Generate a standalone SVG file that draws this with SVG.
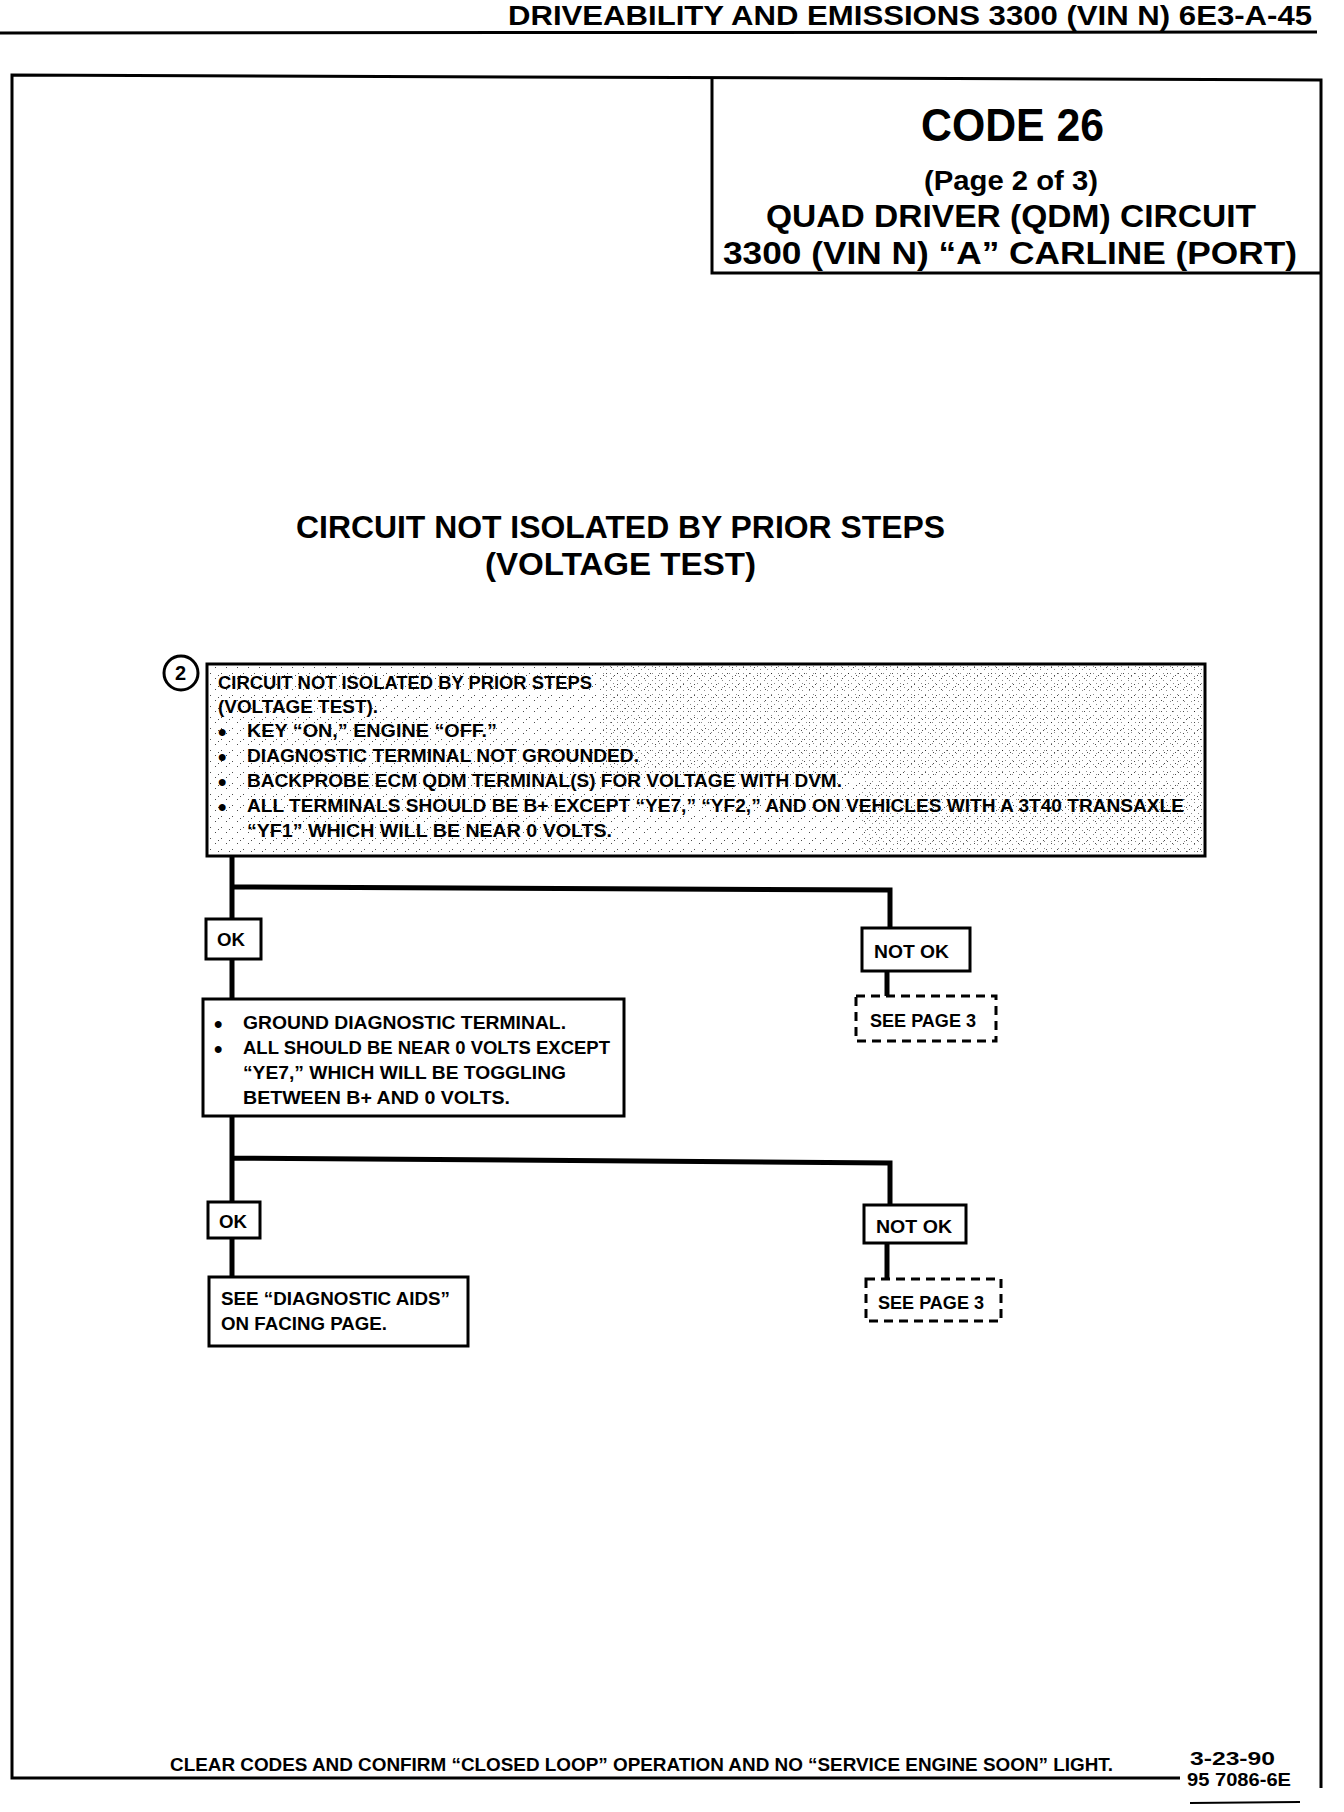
<svg xmlns="http://www.w3.org/2000/svg" width="1344" height="1812" viewBox="0 0 1344 1812">
<style>
text{font-family:"Liberation Sans","DejaVu Sans",sans-serif;font-weight:bold;fill:#000}
.box{fill:#fff;stroke:#000;stroke-width:3}
.dash{fill:#fff;stroke:#000;stroke-width:3;stroke-dasharray:9 6}
.conn{fill:none;stroke:#000;stroke-width:5;stroke-linejoin:miter}
.s{font-size:18px}
.m{font-size:19px}
.b{font-size:24px}
</style>
<defs>
<pattern id="stip" width="11" height="11" patternUnits="userSpaceOnUse">
<rect x="1" y="2" width="1" height="1" fill="#000"/>
<rect x="6" y="7" width="1" height="1" fill="#000"/>
<rect x="9" y="4" width="1" height="1" fill="#000"/>
</pattern>
<pattern id="stip2" width="7" height="7" patternUnits="userSpaceOnUse">
<rect x="1" y="1" width="1" height="1" fill="#000"/>
<rect x="4" y="4" width="1" height="1" fill="#000"/>
</pattern>
</defs>

<g id="header">
<text x="508" y="25" font-size="27" textLength="804" lengthAdjust="spacingAndGlyphs">DRIVEABILITY AND EMISSIONS 3300 (VIN N) 6E3-A-45</text>
<line x1="0" y1="33" x2="1317" y2="32" stroke="#000" stroke-width="3"/>
</g>

<g id="frame">
<polyline points="1180,1778 12,1778 12,75 1321,80 1321,1788" fill="none" stroke="#000" stroke-width="3"/>
</g>

<g id="title-box">
<polyline points="712,77 712,273 1321,273" fill="none" stroke="#000" stroke-width="3"/>
<text x="921" y="141" font-size="46" textLength="183" lengthAdjust="spacingAndGlyphs">CODE 26</text>
<text x="924" y="190" font-size="27" textLength="174" lengthAdjust="spacingAndGlyphs">(Page 2 of 3)</text>
<text x="766" y="227" font-size="31" textLength="490" lengthAdjust="spacingAndGlyphs">QUAD DRIVER (QDM) CIRCUIT</text>
<text x="723" y="264" font-size="31" textLength="574" lengthAdjust="spacingAndGlyphs">3300 (VIN N) “A” CARLINE (PORT)</text>
</g>

<g id="main-title">
<text x="296" y="538" font-size="31" textLength="649" lengthAdjust="spacingAndGlyphs">CIRCUIT NOT ISOLATED BY PRIOR STEPS</text>
<text x="485" y="575" font-size="31" textLength="271" lengthAdjust="spacingAndGlyphs">(VOLTAGE TEST)</text>
</g>

<g id="connectors">
<path class="conn" d="M232,856 V919 M232,959 V999 M232,887 L890,890 V928 M887,971 V996"/>
<path class="conn" d="M232,1116 V1202 M232,1238 V1277 M232,1158 L890,1163 V1205 M887,1243 V1279"/>
</g>

<g id="step2">
<circle cx="181" cy="673" r="17" fill="#fff" stroke="#000" stroke-width="3"/>
<text x="175" y="680" font-size="20">2</text>
</g>

<g id="box1">
<rect class="box" x="207" y="664" width="998" height="192"/>
<rect x="209" y="666" width="994" height="188" fill="url(#stip)" opacity="0.7"/>
<rect x="600" y="666" width="603" height="110" fill="url(#stip2)" opacity="0.45"/>
<rect x="860" y="780" width="343" height="74" fill="url(#stip2)" opacity="0.45"/>
<text class="m" x="218" y="689" textLength="374" lengthAdjust="spacingAndGlyphs">CIRCUIT NOT ISOLATED BY PRIOR STEPS</text>
<text class="m" x="218" y="713" textLength="160" lengthAdjust="spacingAndGlyphs">(VOLTAGE TEST).</text>
<text class="m" y="737"><tspan class="b" x="218" dy="3">•</tspan><tspan x="247" dy="-3" textLength="250" lengthAdjust="spacingAndGlyphs">KEY “ON,” ENGINE “OFF.”</tspan></text>
<text class="m" y="762"><tspan class="b" x="218" dy="3">•</tspan><tspan x="247" dy="-3" textLength="392" lengthAdjust="spacingAndGlyphs">DIAGNOSTIC TERMINAL NOT GROUNDED.</tspan></text>
<text class="m" y="787"><tspan class="b" x="218" dy="3">•</tspan><tspan x="247" dy="-3" textLength="595" lengthAdjust="spacingAndGlyphs">BACKPROBE ECM QDM TERMINAL(S) FOR VOLTAGE WITH DVM.</tspan></text>
<text class="m" y="812"><tspan class="b" x="218" dy="3">•</tspan><tspan x="247" dy="-3" textLength="937" lengthAdjust="spacingAndGlyphs">ALL TERMINALS SHOULD BE B+ EXCEPT “YE7,” “YF2,” AND ON VEHICLES WITH A 3T40 TRANSAXLE</tspan></text>
<text class="m" x="247" y="837" textLength="365" lengthAdjust="spacingAndGlyphs">“YF1” WHICH WILL BE NEAR 0 VOLTS.</text>
</g>

<g id="ok1">
<rect class="box" x="206" y="919" width="55" height="40"/>
<text class="m" x="217" y="946" textLength="28" lengthAdjust="spacingAndGlyphs">OK</text>
</g>

<g id="notok1">
<rect class="box" x="862" y="928" width="108" height="43"/>
<text class="m" x="874" y="958" textLength="75" lengthAdjust="spacingAndGlyphs">NOT OK</text>
</g>

<g id="seepage3-1">
<rect class="dash" x="856" y="996" width="140" height="45"/>
<text class="m" x="870" y="1027" textLength="106" lengthAdjust="spacingAndGlyphs">SEE PAGE 3</text>
</g>

<g id="box2">
<rect class="box" x="203" y="999" width="421" height="117"/>
<text class="m" y="1029"><tspan class="b" x="214" dy="3">•</tspan><tspan x="243" dy="-3" textLength="323" lengthAdjust="spacingAndGlyphs">GROUND DIAGNOSTIC TERMINAL.</tspan></text>
<text class="m" y="1054"><tspan class="b" x="214" dy="3">•</tspan><tspan x="243" dy="-3" textLength="367" lengthAdjust="spacingAndGlyphs">ALL SHOULD BE NEAR 0 VOLTS EXCEPT</tspan></text>
<text class="m" x="243" y="1079" textLength="323" lengthAdjust="spacingAndGlyphs">“YE7,” WHICH WILL BE TOGGLING</text>
<text class="m" x="243" y="1104" textLength="267" lengthAdjust="spacingAndGlyphs">BETWEEN B+ AND 0 VOLTS.</text>
</g>

<g id="ok2">
<rect class="box" x="208" y="1202" width="52" height="36"/>
<text class="m" x="219" y="1228" textLength="28" lengthAdjust="spacingAndGlyphs">OK</text>
</g>

<g id="notok2">
<rect class="box" x="864" y="1205" width="102" height="38"/>
<text class="m" x="876" y="1233" textLength="76" lengthAdjust="spacingAndGlyphs">NOT OK</text>
</g>

<g id="seepage3-2">
<rect class="dash" x="866" y="1279" width="135" height="42"/>
<text class="m" x="878" y="1309" textLength="106" lengthAdjust="spacingAndGlyphs">SEE PAGE 3</text>
</g>

<g id="box3">
<rect class="box" x="209" y="1277" width="259" height="69"/>
<text class="m" x="221" y="1305" textLength="229" lengthAdjust="spacingAndGlyphs">SEE “DIAGNOSTIC AIDS”</text>
<text class="m" x="221" y="1330" textLength="166" lengthAdjust="spacingAndGlyphs">ON FACING PAGE.</text>
</g>

<g id="footer">
<text class="m" x="170" y="1771" textLength="943" lengthAdjust="spacingAndGlyphs">CLEAR CODES AND CONFIRM “CLOSED LOOP” OPERATION AND NO “SERVICE ENGINE SOON” LIGHT.</text>
<text class="s" x="1190" y="1765" textLength="85" lengthAdjust="spacingAndGlyphs">3-23-90</text>
<text class="s" x="1187" y="1786" textLength="104" lengthAdjust="spacingAndGlyphs">95 7086-6E</text>
<line x1="1190" y1="1803" x2="1300" y2="1802" stroke="#000" stroke-width="2"/>
</g>
</svg>
